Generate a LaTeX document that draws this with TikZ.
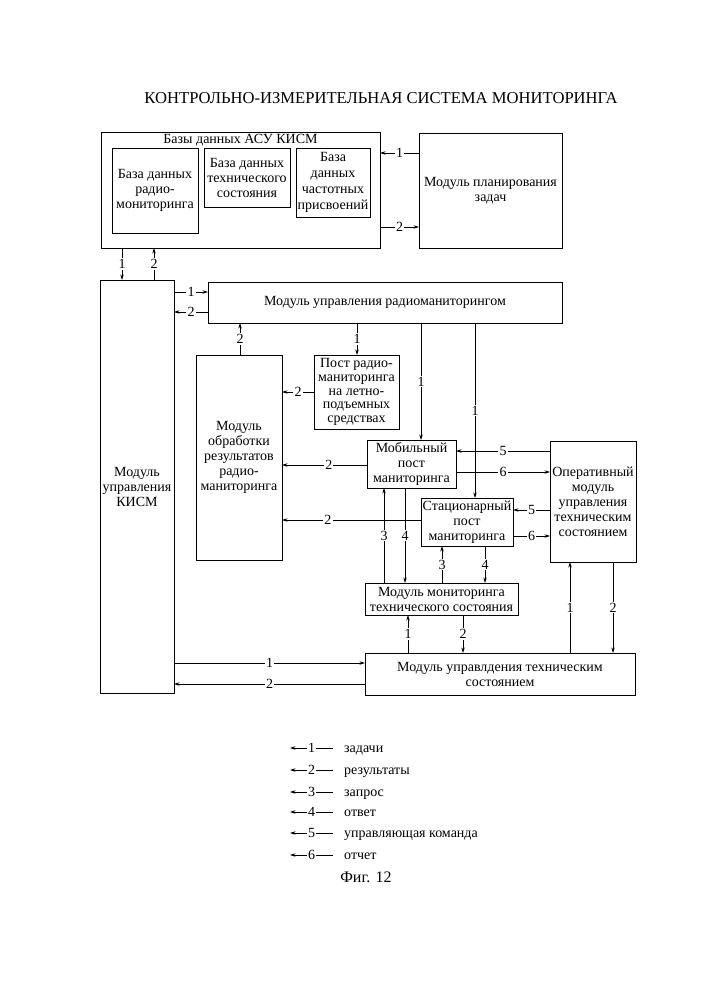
\documentclass[tikz,border=0pt]{standalone}
\usepackage{fontspec}
\setmainfont{Liberation Serif}
\usetikzlibrary{arrows.meta}
\newcommand\fs{\fontsize{14}{15}\selectfont}
\newcommand\fst{\fontsize{14}{13.6}\selectfont}
\tikzset{
  box/.style={draw, line width=0.8pt, align=center, inner sep=0pt, outer sep=0pt, anchor=north west, font=\fs},
  arr/.style={line width=0.7pt, -{Stealth[length=5.5pt,width=3.4pt]}},
  lbl/.style={fill=white, inner sep=1.2pt, font=\fs},
  legtxt/.style={anchor=base west, inner sep=0pt, font=\fs},
}
\begin{document}
\begin{tikzpicture}[x=1pt,y=-1pt]
\useasboundingbox (0,0) rectangle (707,1000);
% title
\node[font=\fontsize{16.6}{18}\selectfont] (title) at (381,98) {КОНТРОЛЬНО-ИЗМЕРИТЕЛЬНАЯ СИСТЕМА МОНИТОРИНГА};
% boxes
\node[box, minimum width=279pt, minimum height=116pt,
  label={[anchor=base, inner sep=0pt, yshift=-12pt, font=\fs]north:Базы данных АСУ КИСМ}] (db) at (101,132) {};
\node[box, minimum width=86pt, minimum height=85pt] (db1) at (112,148) {База данных\\радио-\\мониторинга};
\node[box, minimum width=86pt, minimum height=59pt] (db2) at (204,148) {База данных\\технического\\состояния};
\node[box, minimum width=74pt, minimum height=69pt, font=\fontsize{14}{16}\selectfont] (db3) at (296,148) {База\\данных\\частотных\\присвоений};
\node[box, minimum width=143pt, minimum height=115pt] (plan) at (419,133) {Модуль планирования\\задач};
\node[box, minimum width=74pt, minimum height=413pt] (kism) at (100,280) {Модуль\\управления\\КИСМ};
\node[box, minimum width=354pt, minimum height=41pt] (rm) at (208,282) {Модуль управления радиоманиторингом};
\node[box, minimum width=86pt, minimum height=205pt] (proc) at (196,355) {Модуль\\обработки\\результатов\\радио-\\маниторинга};
\node[box, minimum width=85pt, minimum height=74pt, font=\fst] (air) at (314,355) {Пост радио-\\маниторинга\\на летно-\\подъемных\\средствах};
\node[box, minimum width=89pt, minimum height=48pt] (mob) at (367,440) {Мобильный\\пост\\маниторинга};
\node[box, minimum width=92pt, minimum height=48pt] (stat) at (421,498) {Стационарный\\пост\\маниторинга};
\node[box, minimum width=86pt, minimum height=121pt] (oper) at (550,441) {Оперативный\\модуль\\управления\\техническим\\состоянием};
\node[box, minimum width=153pt, minimum height=32pt] (mts) at (365,583) {Модуль мониторинга\\технического состояния};
\node[box, minimum width=270pt, minimum height=42pt] (mgmt) at (365,653) {Модуль управлдения техническим\\состоянием};
% connectors
\draw[arr] (plan.west |- 0,153) -- node[lbl]{1} (db.east |- 0,153);
\draw[arr] (db.east |- 0,227) -- node[lbl]{2} (plan.west |- 0,227);
\draw[arr] (db.south -| 122,0) -- node[lbl]{1} (kism.north -| 122,0);
\draw[arr] (kism.north -| 154,0) -- node[lbl]{2} (db.south -| 154,0);
\draw[arr] (kism.east |- 0,292) -- node[lbl]{1} (rm.west |- 0,292);
\draw[arr] (rm.west |- 0,312) -- node[lbl]{2} (kism.east |- 0,312);
\draw[arr] (proc.north -| 240,0) -- node[lbl]{2} (rm.south -| 240,0);
\draw[arr] (rm.south -| 357,0) -- node[lbl]{1} (air.north -| 357,0);
\draw[arr] (air.west |- 0,392) -- node[lbl]{2} (proc.east |- 0,392);
\draw[arr] (rm.south -| 421,0) -- node[lbl]{1} (mob.north -| 421,0);
\draw[arr] (rm.south -| 475,0) -- node[lbl]{1} (stat.north -| 475,0);
\draw[arr] (mob.west |- 0,465) -- node[lbl, pos=0.45]{2} (proc.east |- 0,465);
\draw[arr] (stat.west |- 0,520) -- node[lbl, pos=0.67]{2} (proc.east |- 0,520);
\draw[arr] (oper.west |- 0,451) -- node[lbl]{5} (mob.east |- 0,451);
\draw[arr] (mob.east |- 0,472) -- node[lbl]{6} (oper.west |- 0,472);
\draw[arr] (oper.west |- 0,510) -- node[lbl]{5} (stat.east |- 0,510);
\draw[arr] (stat.east |- 0,536) -- node[lbl]{6} (oper.west |- 0,536);
\draw[arr] (mts.north -| 384,0) -- node[lbl]{3} (mob.south -| 384,0);
\draw[arr] (mob.south -| 405,0) -- node[lbl]{4} (mts.north -| 405,0);
\draw[arr] (mts.north -| 442,0) -- node[lbl]{3} (stat.south -| 442,0);
\draw[arr] (stat.south -| 485,0) -- node[lbl]{4} (mts.north -| 485,0);
\draw[arr] (mgmt.north -| 408,0) -- node[lbl]{1} (mts.south -| 408,0);
\draw[arr] (mts.south -| 463,0) -- node[lbl]{2} (mgmt.north -| 463,0);
\draw[arr] (mgmt.north -| 570,0) -- node[lbl]{1} (oper.south -| 570,0);
\draw[arr] (oper.south -| 613,0) -- node[lbl]{2} (mgmt.north -| 613,0);
\draw[arr] (kism.east |- 0,663) -- node[lbl]{1} (mgmt.west |- 0,663);
\draw[arr] (mgmt.west |- 0,684) -- node[lbl]{2} (kism.east |- 0,684);
% legend
\foreach \n/\yy/\t in {1/748/задачи, 2/770/результаты, 3/792/запрос, 4/812/ответ, 5/833/управляющая команда, 6/855/отчет}{
  \coordinate (ls\n) at (333,\yy);
  \coordinate (le\n) at (290,\yy);
  \draw[arr] (ls\n) -- node[lbl]{\n} (le\n);
  \node[legtxt] (lt\n) at (344,\yy+4.5) {\t};
}
\node[font=\fontsize{16}{18}\selectfont] (fig) at (366,877) {Фиг. 12};
\end{tikzpicture}
\end{document}
